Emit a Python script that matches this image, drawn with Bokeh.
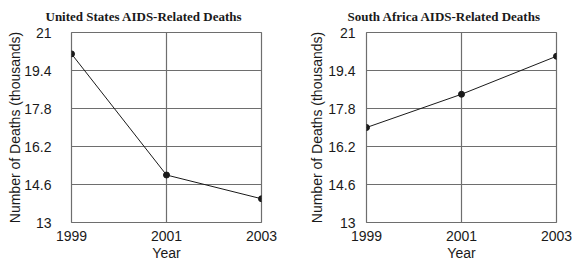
from bokeh.plotting import figure
from bokeh.layouts import row
from bokeh.models import FixedTicker
from bokeh.embed import file_html
from bokeh.resources import INLINE

years = [1999, 2001, 2003]
us_deaths = [20.1, 15.0, 14.0]
sa_deaths = [17.0, 18.4, 20.0]
y_ticks = [13, 14.6, 16.2, 17.8, 19.4, 21]
y_tick_labels = ["13", "14.6", "16.2", "17.8", "19.4", "21"]
x_ticks = [1999, 2001, 2003]
titles = ["United States AIDS-Related Deaths", "South Africa AIDS-Related Deaths"]

FRAME = "#6e6e6e"
INK = "#1a1a1a"


def make(title, values, width, bl, br, ystandoff, label_standoff, title_offset):
    p = figure(width=width, height=263, x_range=(1999, 2003), y_range=(13, 21),
               output_backend="svg", toolbar_location=None,
               min_border_left=bl, min_border_right=br, min_border_top=32, min_border_bottom=40)
    p.border_fill_color = "white"
    p.background_fill_color = "white"
    p.outline_line_color = FRAME
    p.outline_line_width = 1.2

    p.title.text = title
    p.title.text_font = "Liberation Serif"
    p.title.text_font_size = "13px"
    p.title.text_font_style = "bold"
    p.title.text_color = INK
    p.title.align = "left"
    p.title.offset = title_offset
    p.title.vertical_align = "top"
    p.title.standoff = 14

    p.xaxis.ticker = FixedTicker(ticks=x_ticks)
    p.yaxis.ticker = FixedTicker(ticks=y_ticks)
    p.yaxis.major_label_overrides = {t: l for t, l in zip(y_ticks, y_tick_labels)}
    p.xaxis.axis_label = "Year"
    p.yaxis.axis_label = "Number of Deaths (thousands)"
    for ax in (p.xaxis, p.yaxis):
        ax.axis_line_color = None
        ax.major_tick_line_color = None
        ax.minor_tick_line_color = None
        ax.major_label_text_font = "Liberation Sans"
        ax.major_label_text_font_size = "14px"
        ax.major_label_text_color = INK
        ax.axis_label_text_font = "Liberation Sans"
        ax.axis_label_text_font_size = "14px"
        ax.axis_label_text_font_style = "normal"
        ax.axis_label_text_color = INK
    p.xaxis.major_label_standoff = 2
    p.xaxis.axis_label_standoff = 1
    p.yaxis.major_label_standoff = ystandoff
    p.yaxis.axis_label_standoff = label_standoff

    p.xgrid.ticker = FixedTicker(ticks=[2001])
    p.ygrid.ticker = FixedTicker(ticks=y_ticks)
    for g in (p.xgrid, p.ygrid):
        g.grid_line_color = FRAME
        g.grid_line_width = 1.2
        g.grid_line_alpha = 1.0

    p.line(years, values, line_color=INK, line_width=1)
    p.scatter(years, values, size=6, fill_color=INK, line_color=INK)
    return p


p1 = make(titles[0], us_deaths, 290, 71, 29, 14, -2, -26)
p2 = make(titles[1], sa_deaths, 282, 76, 16, 5, 0, -19)
layout = row(p1, p2, spacing=0)

open("out.html", "w").write(file_html(layout, INLINE))
